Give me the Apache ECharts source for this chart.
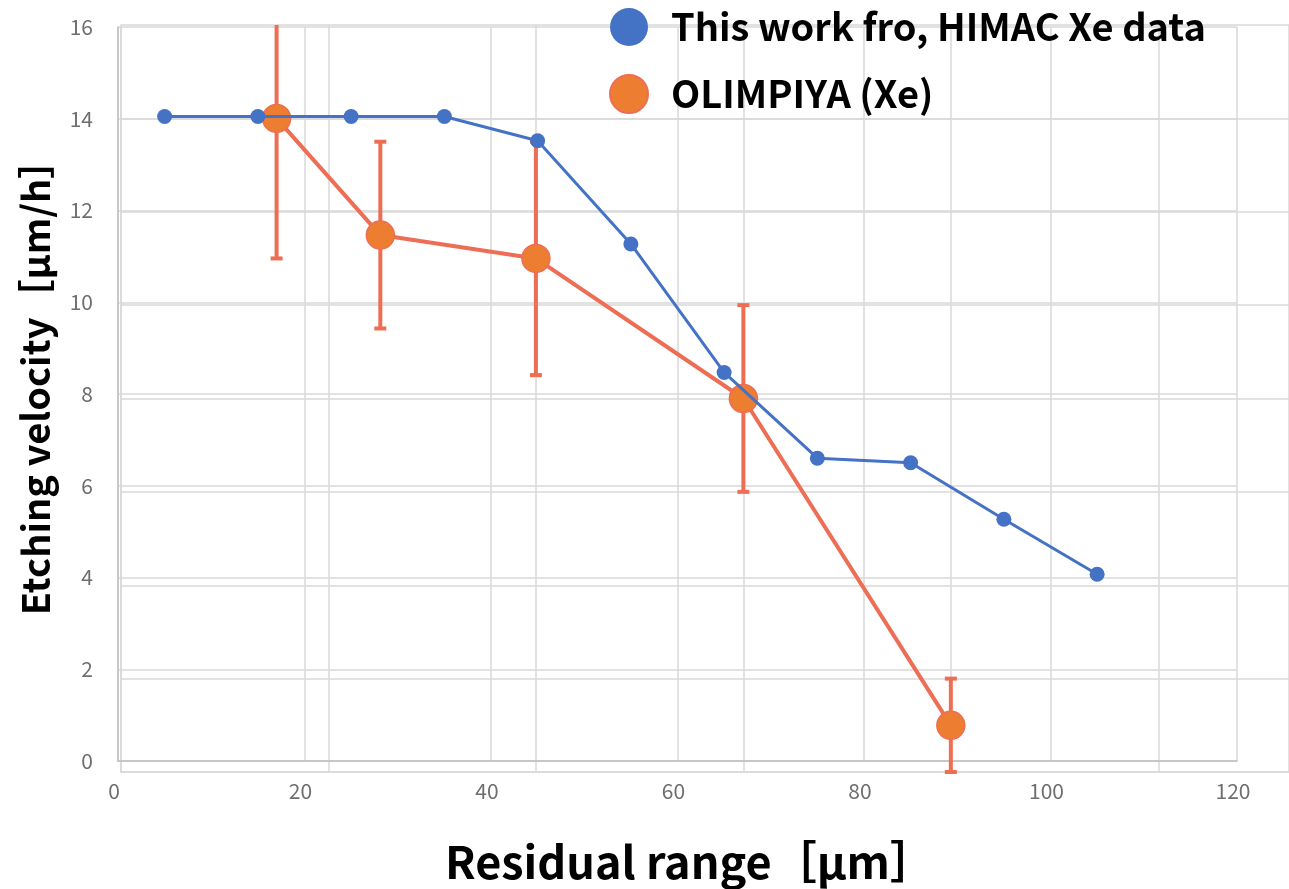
<!DOCTYPE html>
<html>
<head>
<meta charset="utf-8">
<script src="https://cdn.jsdelivr.net/npm/echarts@6/dist/echarts.min.js"></script>
<style>
  html, body { margin: 0; padding: 0; background: #fff; }
  #chart { width: 1289px; height: 889px; }
</style>
</head>
<body>
<div id="chart"></div>
<script>
// HIMAC Xe measurement (this work)
const himacX = [5, 15, 25, 35, 45, 55, 65, 75, 85, 95, 105];
const himacY = [14.05, 14.05, 14.05, 14.05, 13.52, 11.27, 8.47, 6.6, 6.5, 5.27, 4.07];

// OLIMPIYA Xe data with symmetric error bars
const olimpiyaX = [15, 25, 40, 60, 80];
const olimpiyaY = [14.0, 11.5, 11.0, 8.0, 1.0];
const olimpiyaErr = [3, 2, 2.5, 2, 1];

const xTicks = [0, 20, 40, 60, 80, 100, 120];
const yTicks = [0, 2, 4, 6, 8, 10, 12, 14, 16];

const nameHimac = 'This work fro, HIMAC Xe data';
const nameOlimpiya = 'OLIMPIYA (Xe)';
const xTitle = 'Residual range［μm］';
const yTitle = 'Etching velocity［μm/h］';

// the OLIMPIYA panel is laid over the first one with a wider scale,
// so its visible range ends at the right edge of the page
const olimpiyaXMax = 112.6;

const blue = '#4472C4';
const orangeFill = '#ED7D31';
const orangeLine = '#EE6E55';
const gridColor = '#D9D9D9';
const axisColor = '#BFBFBF';
const jp = '"Noto Sans CJK JP", "Noto Sans", sans-serif';

const chart = echarts.init(document.getElementById('chart'), null, { renderer: 'canvas' });

const himacData = himacX.map((x, i) => [x, himacY[i]]);
const olimpiyaData = olimpiyaX.map((x, i) => [x, olimpiyaY[i]]);
const errData = olimpiyaX.map((x, i) => [x, olimpiyaY[i], olimpiyaErr[i]]);

function renderErrorBar(params, api) {
  const x = api.value(0), y = api.value(1), e = api.value(2);
  const cs = params.coordSys;
  const top = api.coord([x, y + e]);
  const bot = api.coord([x, y - e]);
  const yMin = cs.y, yMax = cs.y + cs.height;
  const cap = 6;
  const style = { stroke: orangeLine, lineWidth: 4 };
  const children = [{
    type: 'line',
    shape: { x1: top[0], y1: Math.max(top[1], yMin), x2: bot[0], y2: Math.min(bot[1], yMax) },
    style: style
  }];
  if (top[1] >= yMin) {
    children.push({ type: 'line', shape: { x1: top[0] - cap, y1: top[1], x2: top[0] + cap, y2: top[1] }, style: style });
  }
  if (bot[1] <= yMax + 1) {
    children.push({ type: 'line', shape: { x1: bot[0] - cap, y1: bot[1], x2: bot[0] + cap, y2: bot[1] }, style: style });
  }
  return { type: 'group', children: children };
}

const tickFont = { color: '#6E6E6E', fontSize: 21, fontFamily: jp };

chart.setOption({
  animation: false,
  backgroundColor: '#ffffff',
  legend: {
    data: [nameHimac, nameOlimpiya],
    orient: 'vertical',
    left: 609,
    top: 8,
    icon: 'circle',
    itemWidth: 38,
    itemHeight: 38,
    itemGap: 28,
    padding: 0,
    selectedMode: false,
    textStyle: { fontSize: 38, fontWeight: 'bold', color: '#000', fontFamily: jp, padding: [0, 0, 0, 18] }
  },
  graphic: [
    {
      type: 'text', silent: true,
      style: { text: xTitle, x: 690, y: 862, textAlign: 'center', textVerticalAlign: 'middle',
        fontSize: 45, fontWeight: 'bold', fill: '#000', fontFamily: jp }
    },
    {
      type: 'text', silent: true, rotation: Math.PI / 2, x: 36, y: 378,
      style: { text: yTitle, x: 0, y: 0, textAlign: 'center', textVerticalAlign: 'middle',
        fontSize: 38, fontWeight: 'bold', fill: '#000', fontFamily: jp }
    }
  ],
  grid: [
    { left: 118, top: 27, width: 1119, height: 734 },
    { left: 121, top: 25, right: 0, height: 747 }
  ],
  xAxis: [
    {
      gridIndex: 0, type: 'value', min: xTicks[0], max: xTicks[xTicks.length - 1], interval: 20,
      axisLine: { lineStyle: { color: axisColor, width: 1.5 } },
      axisTick: { show: false },
      axisLabel: Object.assign({ margin: 20, padding: [0, 8, 0, 0] }, tickFont),
      splitLine: { lineStyle: { color: gridColor, width: 1.5 } }
    },
    {
      gridIndex: 1, type: 'value', min: xTicks[0], max: olimpiyaXMax, interval: 20,
      axisLine: { lineStyle: { color: gridColor, width: 1.5 } },
      axisTick: { show: false },
      axisLabel: { show: false },
      splitLine: { lineStyle: { color: gridColor, width: 1.5 } }
    }
  ],
  yAxis: [
    {
      gridIndex: 0, type: 'value', min: yTicks[0], max: yTicks[yTicks.length - 1], interval: 2,
      axisLine: { show: true, lineStyle: { color: axisColor, width: 1.5 } },
      axisTick: { show: false },
      axisLabel: Object.assign({ margin: 25 }, tickFont),
      splitLine: { lineStyle: { color: gridColor, width: 1.5 } }
    },
    {
      gridIndex: 1, type: 'value', min: yTicks[0], max: yTicks[yTicks.length - 1], interval: 2,
      axisLine: { show: true, lineStyle: { color: gridColor, width: 1.5 } },
      axisTick: { show: false },
      axisLabel: { show: false },
      splitLine: { lineStyle: { color: gridColor, width: 1.5 } }
    }
  ],
  series: [
    {
      name: 'errors',
      type: 'custom',
      xAxisIndex: 1, yAxisIndex: 1,
      renderItem: renderErrorBar,
      data: errData,
      z: 2,
      silent: true
    },
    {
      name: nameOlimpiya,
      type: 'line',
      xAxisIndex: 1, yAxisIndex: 1,
      data: olimpiyaData,
      symbol: 'circle',
      symbolSize: 28,
      lineStyle: { color: orangeLine, width: 4 },
      itemStyle: { color: orangeFill, borderColor: orangeLine, borderWidth: 1.5 },
      z: 3,
      emphasis: { disabled: true }
    },
    {
      name: nameHimac,
      type: 'line',
      xAxisIndex: 0, yAxisIndex: 0,
      data: himacData,
      symbol: 'circle',
      symbolSize: 15,
      lineStyle: { color: blue, width: 3 },
      itemStyle: { color: blue },
      z: 4,
      emphasis: { disabled: true }
    }
  ]
});
</script>
</body>
</html>
